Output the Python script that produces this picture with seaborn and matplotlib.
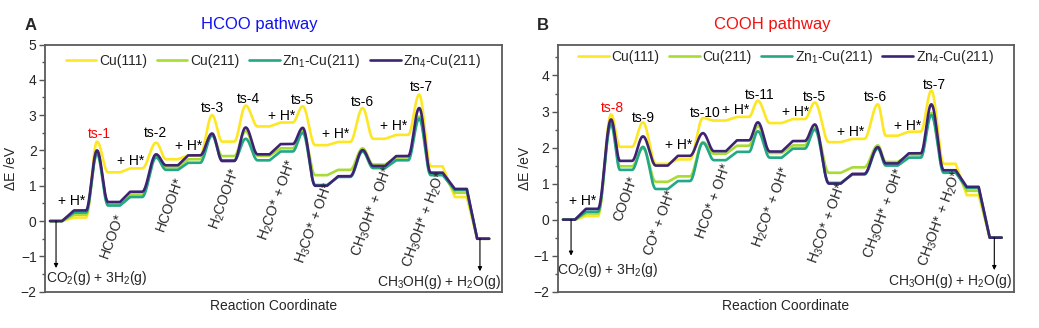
import numpy as np
import pandas as pd
import matplotlib
matplotlib.use("Agg")
import matplotlib.pyplot as plt
from matplotlib.ticker import MultipleLocator
import seaborn as sns

sns.set_style("ticks")
plt.rcParams["font.family"] = ["Liberation Sans", "DejaVu Sans"]
plt.rcParams["mathtext.fontset"] = "custom"
plt.rcParams["mathtext.rm"] = "Liberation Sans"
plt.rcParams["mathtext.it"] = "Liberation Sans:italic"
plt.rcParams["mathtext.default"] = "regular"

surfaces = ["Cu(111)", "Cu(211)", "Zn$_1$-Cu(211)", "Zn$_4$-Cu(211)"]
colors = ["#FDE725", "#A8DB34", "#22A884", "#3E2373"]

# node type along the path: "I" = intermediate level, "T" = transition state
kinds_hcoo = list("IITIITIITIT")
kinds_cooh = list("IITITIITIIT")
kinds_tail = list("IITIITIITIII")

# reaction-coordinate position of every node
coord_hcoo = [0.48, 1.52, 2.26, 3.00, 3.96, 4.83, 5.52, 6.48, 7.26, 7.96, 8.72]
coord_cooh = [0.49, 1.49, 2.32, 2.97, 3.71, 4.53, 5.49, 6.32, 7.06, 8.06, 8.71]
coord_tail_hcoo = [9.50, 10.50, 11.20, 12.00, 13.00, 13.80, 14.52, 15.52, 16.26, 17.02, 18.07, 19.04]
coord_tail_cooh = [9.49, 10.49, 11.19, 12.06, 13.08, 13.93, 14.54, 15.54, 16.26, 17.06, 18.06, 19.06]

# HCOO route: CO2 -> HCOO* -> HCOOH* -> H2COOH* -> (ts-4)
hcoo_cu111 = [0.00, 0.10, 2.25, 1.38, 1.49, 2.22, 1.75, 1.86, 3.00, 2.25, 3.27]
hcoo_cu211 = [0.00, 0.18, 1.95, 0.50, 0.75, 1.85, 1.52, 1.75, 2.45, 1.84, 2.55]
hcoo_zn1 = [0.00, 0.24, 1.90, 0.44, 0.68, 1.80, 1.45, 1.65, 2.42, 1.72, 2.33]
hcoo_zn4 = [0.00, 0.30, 2.00, 0.54, 0.83, 1.89, 1.58, 1.86, 2.48, 1.70, 2.65]

# COOH route: CO2 -> COOH* -> CO* + OH* -> HCO* + OH* -> (ts-11)
cooh_cu111 = [0.00, 0.10, 2.92, 2.02, 2.70, 1.55, 1.67, 2.82, 2.75, 2.85, 3.30]
cooh_cu211 = [0.00, 0.17, 2.72, 1.48, 1.98, 1.05, 1.20, 2.15, 1.83, 2.05, 2.60]
cooh_zn1 = [0.00, 0.22, 2.64, 1.38, 2.02, 0.85, 1.07, 2.13, 1.65, 1.88, 2.45]
cooh_zn4 = [0.00, 0.30, 2.78, 1.63, 2.31, 1.50, 1.77, 2.40, 1.90, 2.20, 2.70]

# shared part: H2CO* + OH* -> ... -> CH3OH(g) + H2O(g)
tail_cu111 = [2.68, 2.79, 3.25, 2.15, 2.24, 3.20, 2.33, 2.44, 3.58, 1.55, 0.68, -0.50]
tail_cu211 = [1.85, 2.06, 2.55, 1.30, 1.45, 2.06, 1.60, 1.80, 2.96, 1.36, 0.80, -0.50]
tail_zn1 = [1.72, 1.97, 2.50, 1.02, 1.25, 1.97, 1.50, 1.72, 2.90, 1.30, 0.88, -0.50]
tail_zn4 = [1.89, 2.18, 2.64, 1.00, 1.27, 2.01, 1.56, 1.84, 3.20, 1.37, 0.91, -0.50]


def profile(coords, kinds, energies, hw=0.26, n=40):
    """Flat levels joined by straight steps, transition states as smooth humps."""
    xs, ys = [], []
    for k, kind in enumerate(kinds):
        if kind == "I":
            xs += [coords[k] - hw, coords[k] + hw]
            ys += [energies[k], energies[k]]
        else:
            x0, y0 = coords[k - 1] + hw, energies[k - 1]
            x1, y1 = coords[k + 1] - hw, energies[k + 1]
            xt, yt = coords[k], energies[k]
            t = np.linspace(0, 1, n)
            ease = (1 - np.cos(np.pi * t)) / 2
            xs += list(x0 + (xt - x0) * t[1:])
            ys += list(y0 + (yt - y0) * ease[1:])
            xs += list(xt + (x1 - xt) * t[1:-1])
            ys += list(yt + (y1 - yt) * ease[1:-1])
    return xs, ys


def frame(coords, kinds, series):
    rows = []
    for name, energies in zip(surfaces, series):
        xs, ys = profile(coords, kinds, energies)
        rows.append(pd.DataFrame({"coord": xs, "dE": ys, "surface": name}))
    return pd.concat(rows, ignore_index=True)


df_hcoo = frame(coord_hcoo + coord_tail_hcoo, kinds_hcoo + kinds_tail,
                [hcoo_cu111 + tail_cu111, hcoo_cu211 + tail_cu211,
                 hcoo_zn1 + tail_zn1, hcoo_zn4 + tail_zn4])
df_cooh = frame(coord_cooh + coord_tail_cooh, kinds_cooh + kinds_tail,
                [cooh_cu111 + tail_cu111, cooh_cu211 + tail_cu211,
                 cooh_zn1 + tail_zn1, cooh_zn4 + tail_zn4])

fig = plt.figure(figsize=(10.39, 3.28), dpi=100)
axA = fig.add_axes([0.0433, 0.1107, 0.4399, 0.7536])
axB = fig.add_axes([0.5368, 0.1107, 0.4392, 0.7536])

FS = 10


def style_axes(ax, ytop, legend_y, ylab_x):
    ax.set_xlim(0, 19.86)
    ax.set_ylim(-2, ytop)
    ax.set_xticks([])
    ax.set_yticks(range(-2, int(ytop) + 1))
    ax.yaxis.set_minor_locator(MultipleLocator(0.5))
    ax.tick_params(axis="y", which="major", direction="out", length=4, width=1,
                   color="#555555", labelsize=FS, pad=2)
    ax.tick_params(axis="y", which="minor", direction="out", length=2, width=1,
                   color="#555555")
    for s in ax.spines.values():
        s.set_visible(True)
        s.set_color("#5a5a5a")
        s.set_linewidth(1.3)
    ax.set_ylabel("ΔE /eV", fontsize=FS)
    ax.yaxis.set_label_coords(ylab_x, 0.5)
    ax.set_xlabel("Reaction Coordinate", fontsize=FS)
    ax.xaxis.set_label_coords(0.5, -0.03)
    handles = ax.get_lines()[:4]
    ax.legend(handles, surfaces, loc="center", bbox_to_anchor=(0.5, legend_y),
              ncol=4, frameon=False, handlelength=2.2, handletextpad=0.2,
              columnspacing=0.7, fontsize=FS, borderaxespad=0)


for ax, df in ((axA, df_hcoo), (axB, df_cooh)):
    sns.lineplot(data=df, x="coord", y="dE", hue="surface", hue_order=surfaces,
                 palette=colors, sort=False, estimator=None, linewidth=1.9,
                 legend=False, ax=ax)

style_axes(axA, 5, 0.935, -0.059)
style_axes(axB, 4.86, 0.949, -0.056)

# panel letters and titles
fig.text(31 / 1039, 1 - 25 / 328, "A", fontsize=12, fontweight="bold", ha="center", va="center")
fig.text(543 / 1039, 1 - 25 / 328, "B", fontsize=12, fontweight="bold", ha="center", va="center")
axA.text(0.468, 1.079, "HCOO pathway", color="#1010F0", fontsize=12,
         ha="center", va="center", transform=axA.transAxes)
axB.text(0.47, 1.079, "COOH pathway", color="#F01010", fontsize=12,
         ha="center", va="center", transform=axB.transAxes)

hstar = "+ H*"
labels_A = [
    ("ts-1", 2.35, 2.46, "red"), ("ts-2", 4.78, 2.49, "black"),
    ("ts-3", 7.26, 3.20, "black"), ("ts-4", 8.83, 3.47, "black"),
    ("ts-5", 11.17, 3.43, "black"), ("ts-6", 13.78, 3.37, "black"),
    ("ts-7", 16.35, 3.80, "black"),
    (hstar, 1.17, 0.57, "black"), (hstar, 3.74, 1.70, "black"),
    (hstar, 6.22, 2.12, "black"), (hstar, 10.30, 2.97, "black"),
    (hstar, 12.65, 2.46, "black"), (hstar, 15.17, 2.69, "black"),
]
labels_B = [
    ("ts-8", 2.40, 3.11, "red"), ("ts-9", 3.71, 2.83, "black"),
    ("ts-10", 6.40, 2.97, "black"), ("ts-11", 8.80, 3.47, "black"),
    ("ts-5", 11.19, 3.39, "black"), ("ts-6", 13.84, 3.39, "black"),
    ("ts-7", 16.40, 3.75, "black"),
    (hstar, 1.10, 0.53, "black"), (hstar, 5.28, 2.06, "black"),
    (hstar, 7.75, 3.03, "black"), (hstar, 10.37, 3.00, "black"),
    (hstar, 12.75, 2.44, "black"), (hstar, 15.23, 2.61, "black"),
]
species_A = [
    ("HCOO*", 2.91, -0.42), ("HCOOH*", 5.43, 0.48), ("H$_2$COOH*", 7.83, 0.62),
    ("H$_2$CO* + OH*", 10.13, 0.60), ("H$_3$CO* + OH*", 11.74, -0.06),
    ("CH$_3$OH* + OH*", 14.22, 0.28), ("CH$_3$OH* + H$_2$O*", 16.48, 0.06),
]
species_B = [
    ("COOH*", 2.97, 0.58), ("CO* + OH*", 4.45, -0.08), ("HCO* + OH*", 6.80, 0.53),
    ("H$_2$CO* + OH*", 9.32, 0.36), ("H$_3$CO* + OH*", 11.75, -0.08),
    ("CH$_3$OH* + OH*", 14.23, 0.17), ("CH$_3$OH* + H$_2$O*", 16.68, 0.03),
]

for ax, labels, species in ((axA, labels_A, species_A), (axB, labels_B, species_B)):
    for txt, x, y, c in labels:
        ax.text(x, y, txt, color=c, fontsize=FS, ha="center", va="center")
    for txt, x, y in species:
        ax.text(x, y, txt, fontsize=FS, rotation=70, ha="center", va="center")

arrow = dict(arrowstyle="-|>", lw=0.8, color="black", mutation_scale=6, shrinkA=0, shrinkB=0)
# gas-phase reference states
axA.annotate("", xy=(0.48, -1.33), xytext=(0.48, 0.0), arrowprops=arrow)
axA.text(2.26, -1.61, "CO$_2$(g) + 3H$_2$(g)", fontsize=FS, ha="center", va="center")
axA.annotate("", xy=(18.9, -1.42), xytext=(18.9, -0.5), arrowprops=arrow)
axA.text(17.13, -1.73, "CH$_3$OH(g) + H$_2$O(g)", fontsize=FS, ha="center", va="center")

axB.annotate("", xy=(0.58, -1.0), xytext=(0.58, 0.0), arrowprops=arrow)
axB.text(2.19, -1.39, "CO$_2$(g) + 3H$_2$(g)", fontsize=FS, ha="center", va="center")
axB.annotate("", xy=(19.0, -1.40), xytext=(19.0, -0.5), arrowprops=arrow)
axB.text(17.1, -1.70, "CH$_3$OH(g) + H$_2$O(g)", fontsize=FS, ha="center", va="center")

fig.savefig("out.png", dpi=100)
